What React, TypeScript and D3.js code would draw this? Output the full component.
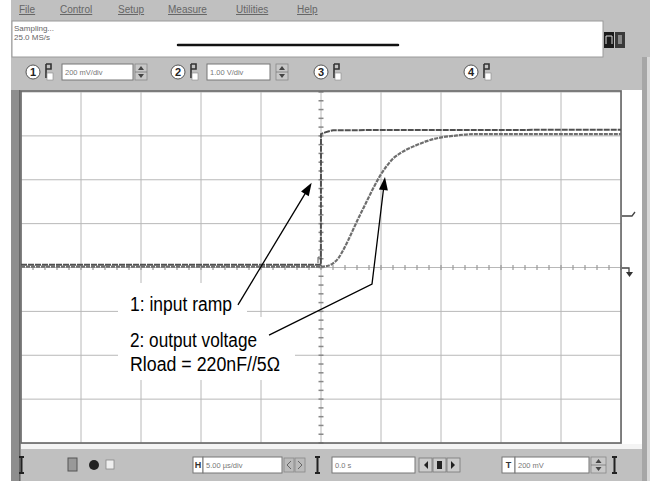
import React from "react";
import * as d3 from "d3";

const W = 650;
const H = 481;

// Horizontal: 5.00 µs/div, 10 divisions; vertical: 8 divisions
const timeGridUs = [-25, -20, -15, -10, -5, 0, 5, 10, 15, 20, 25];
const levelGridDiv = [-4, -3, -2, -1, 0, 1, 2, 3, 4];

// Channel 1: input ramp (in divisions)
const ch1TimeUs = [-25, -0.01, 0, 0.35, 1.0, 25];
const ch1Div = [0.06, 0.06, 3.04, 3.08, 3.13, 3.14];

// Channel 2: output voltage (in divisions)
const ch2TimeUs = [-25, 0, 0.6, 1.03, 1.44, 1.86, 2.28, 2.69, 3.11, 3.53, 3.94, 4.36, 4.92, 5.47, 6.03, 6.58, 7.14, 7.97, 8.81, 9.92, 11.03, 12.69, 14.92, 25];
const ch2Div = [0.02, 0.02, 0.04, 0.1, 0.21, 0.4, 0.63, 0.87, 1.12, 1.35, 1.58, 1.81, 2.09, 2.31, 2.49, 2.6, 2.69, 2.79, 2.88, 2.96, 3.0, 3.04, 3.04, 3.04];

const menuItems = ["File", "Control", "Setup", "Measure", "Utilities", "Help"];
const statusLines = ["Sampling...", "25.0 MS/s"];
const channelNumbers = ["1", "2", "3", "4"];
const channelScales = ["200 mV/div", "1.00 V/div"];
const timebaseLabel = "5.00 µs/div";
const delayLabel = "0.0 s";
const triggerLabel = "200 mV";

const annotations = ["1: input ramp", "2: output voltage", "Rload = 220nF//5Ω"];
// arrow paths in data units (µs, div)
const arrow1 = [[-6.92, -0.85], [-0.78, 1.93]];
const arrow2 = [[-4.33, -1.54], [4.25, -0.38], [5.33, 2.06]];

const UI_FONT = "'Liberation Sans', Arial, sans-serif";
const NOTE_FONT = "'Liberation Sans Narrow', 'Arial Narrow', 'Liberation Sans', Arial, sans-serif";

function Circ({ cx, cy, label }: { cx: number; cy: number; label: string }) {
  return (
    <g>
      <circle cx={cx} cy={cy} r={7} fill="#fff" stroke="#555" strokeWidth={1} />
      <text x={cx} y={cy + 4} textAnchor="middle" fontSize={11} fontWeight="bold" fontFamily={UI_FONT} fill="#222">{label}</text>
    </g>
  );
}

function Probe({ x0, y0 }: { x0: number; y0: number }) {
  return (
    <g>
      <path d={`M${x0},${y0} v14 M${x0},${y0} h5 v5 h-5`} stroke="#333" strokeWidth={1.6} fill="none" />
      <rect x={x0 + 1} y={y0 + 9} width={6} height={7} fill="#fff" stroke="#888" strokeWidth={0.6} />
    </g>
  );
}

function Spinner({ x0, y0, w, h }: { x0: number; y0: number; w: number; h: number }) {
  return (
    <g>
      <rect x={x0} y={y0} width={w} height={h} fill="#c8c8c8" stroke="#888" strokeWidth={0.8} />
      <line x1={x0} x2={x0 + w} y1={y0 + h / 2} y2={y0 + h / 2} stroke="#777" strokeWidth={0.8} />
      <path d={`M${x0 + w / 2 - 3},${y0 + h / 2 - 2} l3,-4 l3,4 z`} fill="#444" />
      <path d={`M${x0 + w / 2 - 3},${y0 + h / 2 + 2} l3,4 l3,-4 z`} fill="#444" />
    </g>
  );
}

function Box({ x0, y0, w, h, label }: { x0: number; y0: number; w: number; h: number; label?: string }) {
  return (
    <g>
      <rect x={x0} y={y0} width={w} height={h} fill="#fff" stroke="#777" strokeWidth={1} />
      {label ? (
        <text x={x0 + 3} y={y0 + h / 2 + 3} fontSize={7.5} fontFamily={UI_FONT} fill="#777">{label}</text>
      ) : null}
    </g>
  );
}

function Marker({ x0, y0 }: { x0: number; y0: number }) {
  return <path d={`M${x0},${y0} h5 M${x0 + 2.5},${y0} v16 M${x0},${y0 + 16} h5`} stroke="#222" strokeWidth={2} fill="none" />;
}

export default function App() {
  const x = d3.scaleLinear().domain([-25, 25]).range([21, 621]);
  const y = d3.scaleLinear().domain([-4, 4]).range([443, 92]);

  const ch1Line = d3
    .line<number>()
    .x((_, i) => x(ch1TimeUs[i]))
    .y((d) => y(d))
    .curve(d3.curveLinear)(ch1Div) as string;
  const ch2Line = d3
    .line<number>()
    .x((_, i) => x(ch2TimeUs[i]))
    .y((d) => y(d))
    .curve(d3.curveMonotoneX)(ch2Div) as string;

  const minorT = d3.range(-25, 25.001, 1);
  const minorV = d3.range(-4, 4.001, 0.2);

  const menuX = [19, 60, 118, 168, 236, 297];
  const chCircleX = [33, 178, 321, 471];

  const head = (pts: number[][]) => {
    const a = pts[pts.length - 2];
    const b = pts[pts.length - 1];
    const ax = x(a[0]), ay = y(a[1]), bx = x(b[0]), by = y(b[1]);
    const ang = Math.atan2(by - ay, bx - ax);
    const L = 13, hw = 4.5;
    const px = bx - L * Math.cos(ang), py = by - L * Math.sin(ang);
    const nx = -Math.sin(ang), ny = Math.cos(ang);
    return `M${bx},${by} L${px + nx * hw},${py + ny * hw} L${px - nx * hw},${py - ny * hw} Z`;
  };
  const shaftEnd = (pts: number[][]) => {
    const a = pts[pts.length - 2];
    const b = pts[pts.length - 1];
    const ax = x(a[0]), ay = y(a[1]), bx = x(b[0]), by = y(b[1]);
    const ang = Math.atan2(by - ay, bx - ax);
    return [...pts.slice(0, -1).map((p) => [x(p[0]), y(p[1])]), [bx - 10 * Math.cos(ang), by - 10 * Math.sin(ang)]] as [number, number][];
  };

  return (
    <div style={{ position: "fixed", left: 0, top: 0, width: W, height: H, background: "#fff" }}>
      <svg width={W} height={H} viewBox={`0 0 ${W} ${H}`} style={{ display: "block" }}>
        {/* window background */}
        <rect x={0} y={0} width={W} height={H} fill="#fff" />
        <rect x={11} y={0} width={639} height={H} fill="#c0c0c0" />

        {/* menu */}
        {menuItems.map((m, i) => (
          <text key={m} x={menuX[i]} y={13} fontSize={10} fontFamily={UI_FONT} fill="#666" textDecoration="underline">{m}</text>
        ))}

        {/* status box */}
        <rect x={12} y={21} width={591} height={36} fill="#fff" stroke="#9a9a9a" strokeWidth={1} />
        {statusLines.map((s, i) => (
          <text key={s} x={14} y={31 + i * 9} fontSize={8} fontFamily={UI_FONT} fill="#666">{s}</text>
        ))}
        <line x1={178} x2={398} y1={45} y2={45} stroke="#111" strokeWidth={2.5} strokeLinecap="round" />
        <rect x={604} y={32} width={10} height={16} fill="#1a1a1a" />
        <path d="M606,44 v-8 h6 v8" stroke="#ddd" strokeWidth={1} fill="none" />
        <rect x={615} y={32} width={10} height={16} fill="#3a3a3a" />
        <rect x={618} y={35} width={4} height={9} fill="#888" />

        {/* channel bar */}
        {channelNumbers.map((c, i) => (
          <g key={c}>
            <Circ cx={chCircleX[i]} cy={72} label={c} />
            <Probe x0={chCircleX[i] + 13} y0={64} />
          </g>
        ))}
        <Box x0={62} y0={64} w={71} h={16} label={channelScales[0]} />
        <Spinner x0={135} y0={64} w={12} h={16} />
        <Box x0={207} y0={64} w={63} h={16} label={channelScales[1]} />
        <Spinner x0={276} y0={64} w={12} h={16} />

        {/* plot frame */}
        <rect x={11} y={90} width={10} height={391} fill="#8e8e8e" />
        <line x1={19.5} x2={19.5} y1={90} y2={H} stroke="#666" strokeWidth={1} />
        <rect x={21} y={92} width={600} height={351} fill="#fff" />
        <rect x={622} y={90} width={20} height={358} fill="#fff" />
        <rect x={642} y={57} width={5} height={H - 57} fill="#a6a6a6" />
        <rect x={647} y={57} width={3} height={H - 57} fill="#d8d8d8" />
        <rect x={21} y={444} width={621} height={5} fill="#f4f4f4" />

        {/* grid */}
        {timeGridUs.map((t) => (
          <line key={"v" + t} x1={x(t)} x2={x(t)} y1={92} y2={443} stroke="#b8b8b8" strokeWidth={1} />
        ))}
        {levelGridDiv.map((v) => (
          <line key={"h" + v} x1={21} x2={621} y1={y(v)} y2={y(v)} stroke="#b8b8b8" strokeWidth={1} />
        ))}
        {minorT.map((t) => (
          <line key={"mt" + t} x1={x(t)} x2={x(t)} y1={y(0) - 2.5} y2={y(0) + 2.5} stroke="#999" strokeWidth={1.2} />
        ))}
        {minorV.map((v, i) => (
          <line key={"mv" + i} x1={x(0) - 2.5} x2={x(0) + 2.5} y1={y(v)} y2={y(v)} stroke="#888" strokeWidth={1.5} />
        ))}
        <rect x={21} y={91} width={600} height={352} fill="none" stroke="#666" strokeWidth={1.5} />

        {/* right side markers */}
        <path d="M622,216 h10 l3,-4" stroke="#444" strokeWidth={1.3} fill="none" />
        <path d="M622,268 h7 v4" stroke="#444" strokeWidth={1.3} fill="none" />
        <path d="M626,272 h7 l-3.5,5 z" fill="#333" />

        {/* traces */}
        <path d={ch1Line} fill="none" stroke="#505050" strokeWidth={2} strokeDasharray="6 1" />
        <path d={ch2Line} fill="none" stroke="#6e6e6e" strokeWidth={2.2} strokeDasharray="4 1" />
        <path d={`M${x(0) - 3},${y(0.1)} v-6 h4`} stroke="#555" strokeWidth={1} fill="none" />

        {/* annotation backgrounds */}
        <rect x={118} y={283} width={129} height={34} fill="#fff" />
        <rect x={118} y={317} width={177} height={63} fill="#fff" />

        {/* arrows */}
        <path d={d3.line()(shaftEnd(arrow1)) as string} fill="none" stroke="#000" strokeWidth={1.3} />
        <path d={head(arrow1)} fill="#000" />
        <path d={d3.line()(shaftEnd(arrow2)) as string} fill="none" stroke="#000" strokeWidth={1.3} />
        <path d={head(arrow2)} fill="#000" />

        {/* annotation text */}
        <text x={130} y={311} fontSize={20} fontFamily={NOTE_FONT} fill="#000" textLength={102} lengthAdjust="spacingAndGlyphs">{annotations[0]}</text>
        <text x={130} y={346.5} fontSize={20} fontFamily={NOTE_FONT} fill="#000" textLength={127} lengthAdjust="spacingAndGlyphs">{annotations[1]}</text>
        <text x={130} y={370.5} fontSize={20} fontFamily={NOTE_FONT} fill="#000" textLength={150} lengthAdjust="spacingAndGlyphs">{annotations[2]}</text>

        {/* bottom bar */}
        <Marker x0={19} y0={457} />
        <rect x={68} y={458} width={9} height={13} fill="#999" stroke="#555" strokeWidth={1} />
        <circle cx={94} cy={465} r={5} fill="#222" />
        <rect x={106} y={460} width={8} height={9} fill="#eee" stroke="#888" strokeWidth={0.8} />
        <Box x0={193} y0={457} w={10} h={16} />
        <text x={198} y={468} textAnchor="middle" fontSize={9} fontWeight="bold" fontFamily={UI_FONT} fill="#333">H</text>
        <Box x0={203} y0={457} w={79} h={16} label={timebaseLabel} />
        <rect x={284} y={458} width={10} height={14} fill="#bbb" stroke="#888" strokeWidth={0.8} />
        <rect x={295} y={458} width={10} height={14} fill="#bbb" stroke="#888" strokeWidth={0.8} />
        <path d="M291,461 l-4,4 l4,4 M298,461 l4,4 l-4,4" stroke="#666" strokeWidth={1} fill="none" />
        <Marker x0={315} y0={457} />
        <Box x0={332} y0={457} w={83} h={16} label={delayLabel} />
        <rect x={419} y={458} width={13} height={14} fill="#ccc" stroke="#777" strokeWidth={0.8} />
        <rect x={433} y={458} width={13} height={14} fill="#ccc" stroke="#777" strokeWidth={0.8} />
        <rect x={447} y={458} width={13} height={14} fill="#ccc" stroke="#777" strokeWidth={0.8} />
        <path d="M428,461 l-4,4 l4,4 z" fill="#222" />
        <rect x={437} y={461} width={5} height={8} fill="#222" />
        <path d="M451,461 l4,4 l-4,4 z" fill="#222" />
        <Box x0={502} y0={457} w={13} h={16} />
        <text x={508.5} y={468} textAnchor="middle" fontSize={9} fontWeight="bold" fontFamily={UI_FONT} fill="#333">T</text>
        <Box x0={515} y0={457} w={74} h={16} label={triggerLabel} />
        <Spinner x0={591} y0={457} w={15} h={16} />
        <Marker x0={612} y0={457} />
      </svg>
    </div>
  );
}
